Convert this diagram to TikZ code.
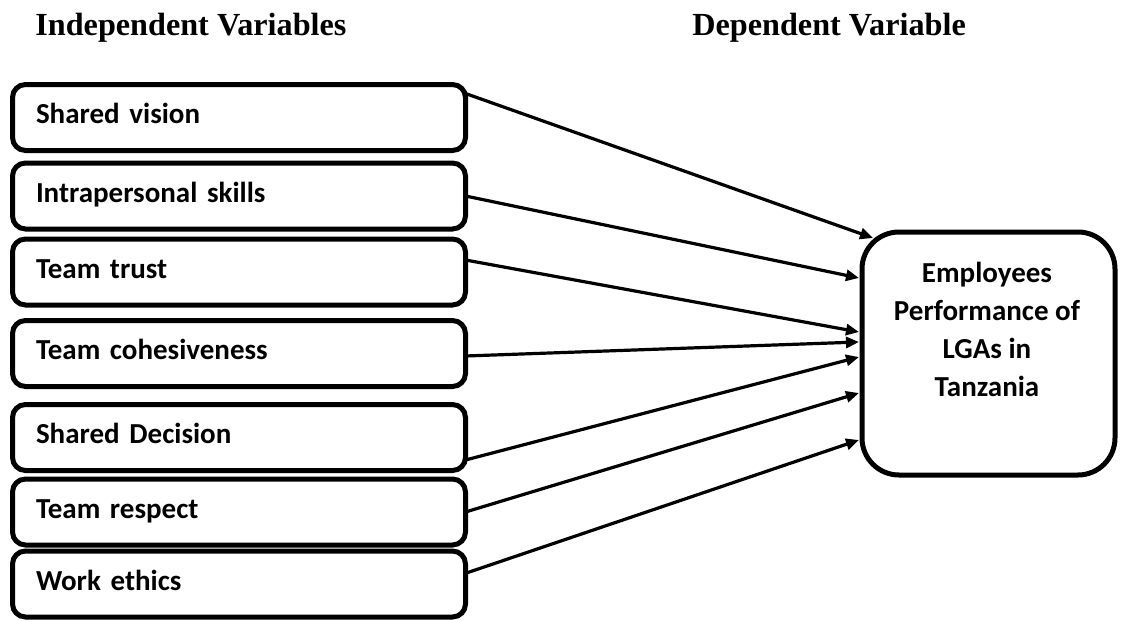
\documentclass[tikz,border=0pt]{standalone}
\usepackage{fontspec}
\setmainfont{Liberation Serif}
\newfontfamily\carlito{Carlito}
\usetikzlibrary{arrows.meta, positioning}

\begin{document}
\begin{tikzpicture}[
    x=0.5pt, y=-0.5pt,
    heading/.style={anchor=base west, inner sep=0pt, font=\bfseries\fontsize{16.1pt}{18pt}\selectfont},
    ivbox/.style={rectangle, draw, line width=2.5pt, outer sep=0pt, rounded corners=6.5pt, text width=203pt, inner xsep=11.75pt, minimum height=33pt, text height=9pt, text depth=3pt, align=left, font=\carlito\bfseries\fontsize{14.5pt}{17pt}\selectfont},
    dvbox/.style={rectangle, draw, line width=2.5pt, outer sep=0pt, rounded corners=18.5pt, minimum width=126.5pt, minimum height=121.5pt},
    dvtext/.style={align=center, inner sep=0pt, font=\carlito\bfseries\fontsize{14.5pt}{19pt}\selectfont},
    arrow/.style={-{Triangle[length=6.5pt, width=5.5pt]}, line width=1.6pt}
]
    \useasboundingbox (0,0) rectangle (1121,621);

    \node[heading] (indep) at (35,35) {Independent Variables};
    \node[heading] (dep) at (692,35) {Dependent Variable};

    \node[ivbox] (vision) at (239,117.5) {Shared vision};
    \node[ivbox, below=6.25pt of vision] (skills) {Intrapersonal skills};
    \node[ivbox, below=5pt of skills] (trust) {Team trust};
    \node[ivbox, below=7.75pt of trust] (cohesion) {Team cohesiveness};
    \node[ivbox, below=9pt of cohesion] (decision) {Shared Decision};
    \node[ivbox, below=4.25pt of decision] (respect) {Team respect};
    \node[ivbox, below=3pt of respect] (ethics) {Work ethics};

    \node[dvbox] (perf) at (988.5,353.5) {};
    \node[dvtext, anchor=north] (perftext) at ([shift={(-1.5,30)}]perf.north) {Employees\\Performance of\\LGAs in\\Tanzania};

    \draw[arrow] ([shift={(0,-24)}]vision.east) -- ([shift={(11,6)}]perf.north west);
    \draw[arrow] (skills.east) -- ([shift={(-3,-75.5)}]perf.west);
    \draw[arrow] ([shift={(0,-12)}]trust.east) -- ([shift={(-3,-21.5)}]perf.west);
    \draw[arrow] ([shift={(0,2.5)}]cohesion.east) -- ([shift={(-3,-11.5)}]perf.west);
    \draw[arrow] ([shift={(0,22.5)}]decision.east) -- ([shift={(-3,3.5)}]perf.west);
    \draw[arrow] (respect.east) -- ([shift={(-3,39.5)}]perf.west);
    \draw[arrow] ([shift={(0,-10.7)}]ethics.east) -- ([shift={(-3,86.5)}]perf.west);
\end{tikzpicture}
\end{document}
